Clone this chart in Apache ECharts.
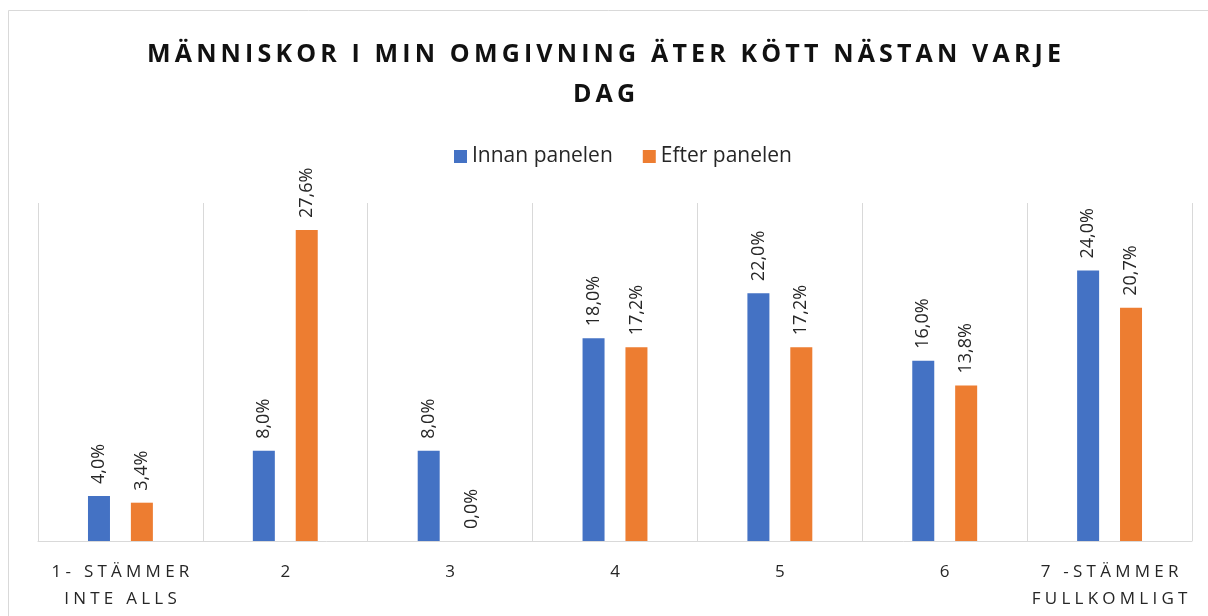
<!DOCTYPE html>
<html>
<head>
<meta charset="utf-8">
<script src="https://cdn.jsdelivr.net/npm/echarts@6/dist/echarts.min.js"></script>
<style>
  html, body { margin: 0; padding: 0; background: #fff; }
  #chart { width: 1208px; height: 616px; }
</style>
</head>
<body>
<div id="chart"></div>
<script>
// värden läses av från bilden (procent)
var categories = ['1- STÄMMER\nINTE ALLS', '2', '3', '4', '5', '6', '7 -STÄMMER\nFULLKOMLIGT'];
var innanValues = [4.0, 8.0, 8.0, 18.0, 22.0, 16.0, 24.0];
var efterValues = [3.4, 27.6, 0.0, 17.2, 17.2, 13.8, 20.7];
var seriesNames = ['Innan panelen', 'Efter panelen'];
var titleText = 'MÄNNISKOR I MIN OMGIVNING ÄTER KÖTT NÄSTAN VARJE\nDAG';

var FONT = '"Open Sans", sans-serif';

// sprid ut bokstäverna lite, som i originalet
function spaced(s, sp) {
    return s.split('\n').map(function (line) {
        return line.split('').join(sp);
    }).join('\n');
}

function pct(p) {
    return p.value.toFixed(1).replace('.', ',') + '%';
}

var labelStyle = {
    show: true,
    position: 'top',
    rotate: 90,
    align: 'left',
    verticalAlign: 'middle',
    distance: 12,
    fontFamily: FONT,
    fontSize: 18,
    color: '#262626',
    formatter: pct
};

var myChart = echarts.init(document.getElementById('chart'));
var option = {
    backgroundColor: '#fff',
    animation: false,
    graphic: [{
        type: 'rect',
        shape: { x: 8.5, y: 10.5, width: 1220, height: 640 },
        style: { fill: 'none', stroke: '#d9d9d9', lineWidth: 1 },
        silent: true
    }],
    title: {
        text: spaced(titleText, '\u2009'),
        left: 'center',
        top: 30,
        textStyle: {
            fontFamily: FONT,
            fontSize: 25,
            fontWeight: 'bold',
            color: '#111',
            lineHeight: 40
        }
    },
    legend: {
        data: seriesNames,
        top: 141,
        left: 449,
        itemWidth: 13,
        itemHeight: 13,
        itemGap: 30,
        icon: 'rect',
        textStyle: { fontFamily: FONT, fontSize: 21, color: '#262626' }
    },
    grid: { left: 38, right: 16, top: 203, bottom: 75 },
    xAxis: {
        type: 'category',
        data: categories,
        axisTick: { show: false },
        axisLine: { lineStyle: { color: '#d9d9d9', width: 1 } },
        splitLine: { show: true, lineStyle: { color: '#d9d9d9', width: 1 } },
        axisLabel: {
            fontFamily: FONT,
            fontSize: 17,
            color: '#262626',
            margin: 18,
            lineHeight: 27,
            interval: 0,
            formatter: function (v) { return spaced(v, '\u2005'); }
        }
    },
    yAxis: {
        type: 'value',
        min: 0,
        max: 30,
        show: false,
        splitLine: { show: false }
    },
    series: [{
        name: seriesNames[0],
        type: 'bar',
        data: innanValues,
        barWidth: 22,
        barGap: '95%',
        itemStyle: { color: '#4472c4' },
        label: labelStyle
    }, {
        name: seriesNames[1],
        type: 'bar',
        data: efterValues,
        barWidth: 22,
        barGap: '95%',
        itemStyle: { color: '#ed7d31' },
        label: labelStyle
    }]
};
myChart.setOption(option);
</script>
</body>
</html>
